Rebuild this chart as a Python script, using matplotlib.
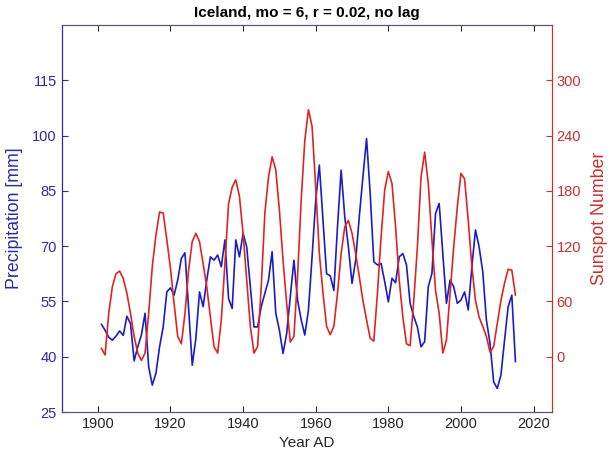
import numpy as np
import matplotlib
matplotlib.use("Agg")
import matplotlib.pyplot as plt

plt.rcParams['font.family'] = ['Liberation Sans', 'DejaVu Sans']

# data
years = np.arange(1901, 2016)

precip = [48.8, 47.2, 45.3, 44.5, 45.6, 47.0, 45.8, 51.0, 49.0, 38.9,
          42.7, 45.9, 51.8, 37.3, 32.3, 35.5, 42.7, 48.1, 57.6, 58.7,
          56.7, 60.8, 66.7, 68.2, 53.1, 37.7, 45.0, 57.6, 53.6, 60.8,
          67.1, 66.2, 67.6, 64.4, 71.7, 55.8, 53.1, 71.7, 67.1, 73.5,
          69.8, 59.0, 48.1, 48.1, 53.6, 57.2, 60.8, 68.5, 51.8, 47.2,
          40.9, 46.3, 56.3, 66.2, 55.4, 50.0, 45.9, 52.7, 67.1, 82.5,
          92.0, 77.1, 62.5, 62.0, 58.0, 75.3, 90.6, 78.0, 69.8, 59.9,
          66.2, 78.0, 88.8, 99.2, 84.3, 65.8, 64.9, 65.3, 60.4, 54.9,
          61.3, 60.1, 67.1, 68.0, 64.9, 54.5, 50.9, 48.1, 42.7, 44.1,
          59.0, 62.6, 78.9, 81.6, 68.0, 54.5, 60.8, 59.0, 54.5, 55.4,
          57.6, 52.7, 64.4, 74.4, 69.8, 63.1, 50.0, 43.6, 33.2, 31.4,
          35.0, 44.5, 53.6, 56.7, 38.7]

sunspots = [9, 2, 47, 76, 90, 93, 85, 69, 47, 22,
            4, -4, 4, 47, 98, 132, 157, 156, 127, 96,
            58, 22, 14, 47, 94, 125, 134, 125, 101, 76,
            43, 11, 4, 40, 101, 166, 184, 192, 174, 134,
            83, 33, 4, 11, 76, 156, 195, 217, 203, 159,
            105, 58, 16, 22, 87, 170, 235, 268, 250, 184,
            112, 69, 33, 24, 33, 69, 112, 141, 148, 134,
            112, 87, 61, 40, 20, 17, 69, 130, 181, 201,
            188, 141, 83, 43, 14, 12, 61, 119, 195, 222,
            188, 127, 72, 47, 4, 18, 69, 119, 163, 199,
            193, 148, 98, 61, 43, 33, 22, 5, 11, 36,
            61, 80, 95, 94, 67]

blue = '#1c1cc4'
blue_txt = '#2b2ba3'
red = '#e02424'
red_txt = '#c8302f'
grey = '#262626'

fig = plt.figure(figsize=(6.09, 4.63), dpi=100)
ax = fig.add_axes([0.101, 0.110, 0.805, 0.836])
ax.plot(years, precip, color=blue, lw=1.2)
ax.set_xlim(1890, 2025)
ax.set_ylim(25, 130)
ax.set_yticks(np.arange(25, 116, 15))
ax.set_xticks(np.arange(1900, 2021, 20))
ax.tick_params(axis='x', direction='in', top=True, colors=grey,
               labelsize=10.5, length=4)
ax.tick_params(axis='y', direction='in', colors=blue_txt, labelsize=10.5,
               length=4)
ax.set_ylabel('Precipitation [mm]', color=blue_txt, fontsize=12.8)
ax.yaxis.set_label_coords(-0.079, 0.5)
ax.set_xlabel('Year AD', color=grey, fontsize=11)
ax.set_title('Iceland, mo = 6, r = 0.02, no lag', fontsize=11,
             fontweight='bold', pad=6)

ax2 = ax.twinx()
ax2.plot(years, sunspots, color=red, lw=1.2)
ax2.set_ylim(-60, 360)
ax2.set_yticks(np.arange(0, 301, 60))
ax2.tick_params(axis='y', direction='in', colors=red_txt, labelsize=10.5,
                length=4)
ax2.set_ylabel('Sunspot Number', color=red_txt, fontsize=12.8)
ax2.yaxis.set_label_coords(1.081, 0.5)

for a in (ax, ax2):
    a.spines['top'].set_color('#555577')
    a.spines['bottom'].set_color('#555577')
    a.spines['left'].set_color(blue_txt)
    a.spines['right'].set_color(red_txt)

fig.savefig('out.png', dpi=100)
